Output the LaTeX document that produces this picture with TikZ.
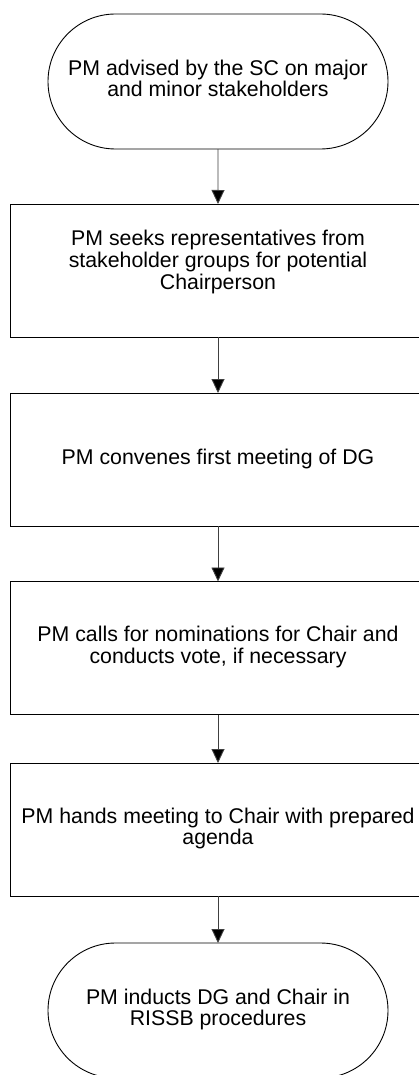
\documentclass[tikz,border=0pt]{standalone}
\usepackage{fontspec}
\setmainfont{Liberation Sans}
\usetikzlibrary{arrows.meta,shapes.misc}
\newcommand{\lns}[1]{\begin{tabular}{@{}c@{}}#1\end{tabular}}
\tikzset{
  every node/.style={font=\fontsize{21.3}{21}\selectfont, inner sep=0pt, outer sep=0pt},
  stepbox/.style={draw=black, line width=0.9pt, rectangle, minimum width=416pt, minimum height=133pt},
  termbox/.style={draw=black, line width=0.9pt, rounded rectangle, minimum width=340pt, minimum height=135pt},
  flow/.style={draw=black!75, line width=0.9pt, -{Triangle[width=13pt,length=14pt,fill=black]}}
}
\begin{document}
\begin{tikzpicture}[x=1pt,y=-1pt]
\clip (0,0) rectangle (419,1075);
\fill[white] (0,0) rectangle (419,1075);
\node[termbox] (t1) at (218,81.5) {\lns{PM advised by the SC on major\\and minor stakeholders}};
\node[stepbox] (b2) at (218,270.5) {\lns{PM seeks representatives from\\stakeholder groups for potential\\Chairperson\\[15pt]}};
\node[stepbox] (b3) at (218,459.5) {\lns{PM convenes first meeting of DG}};
\node[stepbox] (b4) at (218,648) {\lns{PM calls for nominations for Chair and\\conducts vote, if necessary}};
\node[stepbox] (b5) at (218,829.5) {\lns{PM hands meeting to Chair with prepared\\agenda}};
\node[termbox] (t6) at (218,1010.5) {\lns{PM inducts DG and Chair in\\RISSB procedures}};
\draw[flow] (t1) -- (b2);
\draw[flow] (b2) -- (b3);
\draw[flow] (b3) -- (b4);
\draw[flow] (b4) -- (b5);
\draw[flow] (b5) -- (t6);
\end{tikzpicture}
\end{document}
